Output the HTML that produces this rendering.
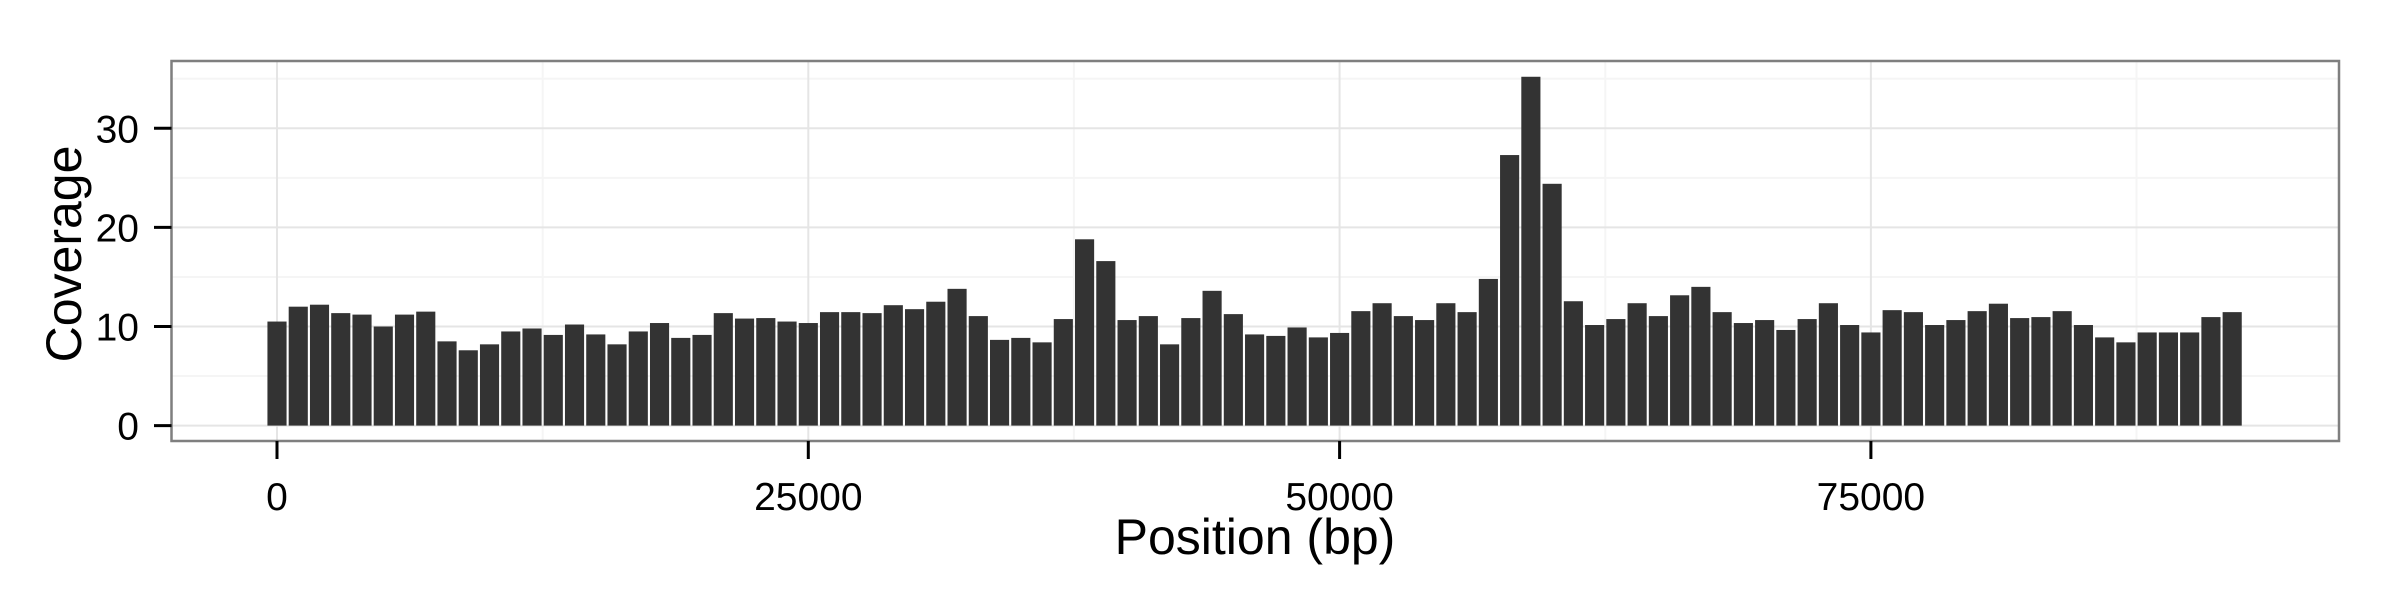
<!DOCTYPE html>
<html><head><meta charset="utf-8"><style>
html,body{margin:0;padding:0;background:#fff;}
svg{display:block;font-family:"Liberation Sans",Arial,sans-serif;}
</style></head><body>
<svg id="chart" width="2400" height="600" viewBox="0 0 2400 600" xmlns="http://www.w3.org/2000/svg">
<rect x="0" y="0" width="2400" height="600" fill="#fff"/>
<g id="grid"></g>
<g id="bars"></g>
<rect x="171.5" y="61" width="2167.5" height="380" fill="none" stroke="#7f7f7f" stroke-width="2.5"/>
<g id="axes"></g>
<text x="1255" y="554" font-size="50" text-anchor="middle" fill="#000">Position (bp)</text>
<text x="0" y="0" font-size="50" text-anchor="middle" fill="#000" transform="translate(81,254) rotate(-90)">Coverage</text>
</svg>
<script>
const positions = [];
for (let i = 0; i < 93; i++) positions.push(i * 1000);
const coverage = [10.5,12.0,12.2,11.35,11.2,10.0,11.2,11.5,8.5,7.6,8.2,9.5,9.8,9.15,10.2,9.2,8.2,9.5,10.35,8.85,9.15,11.35,10.8,10.85,10.5,
10.35,11.45,11.45,11.35,12.15,11.75,12.5,13.8,11.05,8.65,8.85,8.4,10.75,18.8,16.6,10.65,11.05,8.2,10.85,13.6,11.25,9.2,9.05,9.9,8.9,
9.35,11.55,12.35,11.05,10.65,12.35,11.45,14.8,27.3,35.2,24.4,12.55,10.15,10.75,12.35,11.05,13.15,14.0,11.45,10.35,10.65,9.65,10.75,12.35,10.15,
9.4,11.65,11.45,10.15,10.65,11.55,12.3,10.85,10.95,11.55,10.15,8.9,8.4,9.4,9.4,9.4,10.95,11.45];
const xTicks = [0, 25000, 50000, 75000];
const xTickLabels = ["0", "25000", "50000", "75000"];
const xMinor = [12500, 37500, 62500, 87500];
const yTicks = [0, 10, 20, 30];
const yTickLabels = ["0", "10", "20", "30"];
const yMinor = [5, 15, 25, 35];
const binWidth = 1000;

const X0 = 277, XPX = 531.3 / 25000;
const Y0 = 425.6, YPX = 9.91;
const PL = 171.5, PR = 2339, PT = 61, PB = 441;
function xs(v){ return X0 + v * XPX; }
function ys(v){ return Y0 - v * YPX; }
const NS = "http://www.w3.org/2000/svg";
function mk(tag, attrs, parent){ const e = document.createElementNS(NS, tag); for (const k in attrs) e.setAttribute(k, attrs[k]); parent.appendChild(e); return e; }
const grid = document.getElementById('grid'), bars = document.getElementById('bars'), axes = document.getElementById('axes');

yMinor.forEach(v => { const l = mk('line', {x1:PL, x2:PR, y1:ys(v), y2:ys(v), stroke:'#f5f5f5', 'stroke-width':2}, grid);

 });
xMinor.forEach(v => { const l = mk('line', {x1:xs(v), x2:xs(v), y1:PT, y2:PB, stroke:'#f5f5f5', 'stroke-width':2}, grid);

 });
yTicks.forEach(v => { const l = mk('line', {x1:PL, x2:PR, y1:ys(v), y2:ys(v), stroke:'#e5e5e5', 'stroke-width':2}, grid);

 });
xTicks.forEach(v => { const l = mk('line', {x1:xs(v), x2:xs(v), y1:PT, y2:PB, stroke:'#e5e5e5', 'stroke-width':2}, grid);

 });

coverage.forEach((c, i) => {
  const p = positions[i];
  const x1 = xs(p - binWidth * 0.45), x2 = xs(p + binWidth * 0.45);
  const r = mk('rect', {x:x1, y:ys(c), width:x2 - x1, height:ys(0) - ys(c), fill:'#333333'}, bars);
  
  
});

yTicks.forEach((v, i) => {
  const t = mk('line', {x1:154, x2:PL, y1:ys(v), y2:ys(v), stroke:'#000', 'stroke-width':3}, axes);
  
  
  const tx = mk('text', {x:139, y:ys(v) + 14, 'font-size':39, 'text-anchor':'end', fill:'#000'}, axes);
  tx.textContent = yTickLabels[i];
  
  
});
xTicks.forEach((v, i) => {
  const t = mk('line', {x1:xs(v), x2:xs(v), y1:PB, y2:459, stroke:'#000', 'stroke-width':3}, axes);
  
  
  const tx = mk('text', {x:xs(v), y:510, 'font-size':39, 'text-anchor':'middle', fill:'#000'}, axes);
  tx.textContent = xTickLabels[i];
  
  
});
</script>
</body></html>
